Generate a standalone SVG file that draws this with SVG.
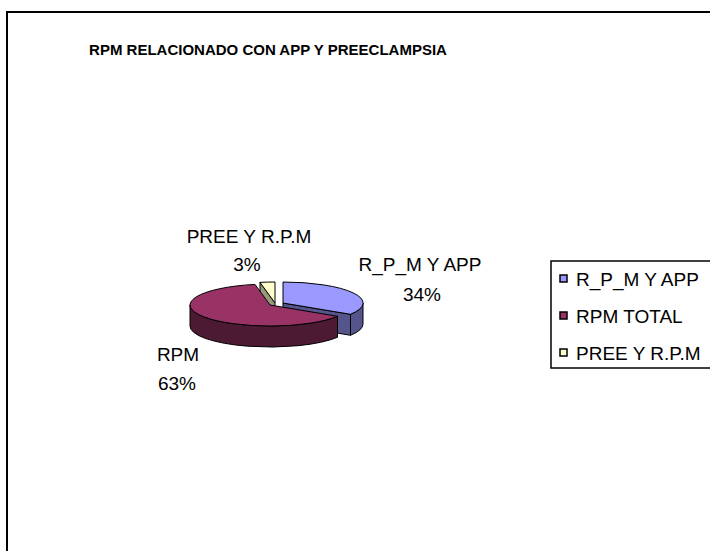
<svg xmlns="http://www.w3.org/2000/svg" width="710" height="551" viewBox="0 0 710 551">
  <style>
    text { font-family: "Liberation Sans", Arial, sans-serif; fill: #000; }
    .title { font-size: 15px; font-weight: bold; }
    .lbl { font-size: 19px; }
    .edge { stroke: #000; stroke-width: 1; stroke-linejoin: round; }
    .sq { stroke: #000; stroke-width: 1.5; }
  </style>
  <rect x="0" y="0" width="710" height="551" fill="#fff"/>
  <rect x="7" y="12" width="720" height="560" fill="#fff" stroke="#000" stroke-width="2"/>
  <text class="title" x="268" y="55" text-anchor="middle">RPM RELACIONADO CON APP Y PREECLAMPSIA</text>

  <g id="slice-pree">
    <path class="edge" fill="#99997A" d="M275,303 L260,282.4 L260,303.4 L275,324 Z"/>
    <path class="edge" fill="#FFFFCC" d="M275,303 L260,282.4 A80,21 0 0,1 275,282 Z"/>
  </g>
  <g id="slice-rpm-app">
    <path class="edge" fill="#55558C" d="M283,303 L350.5,314.3 L350.5,335.3 L283,324 Z"/>
    <path class="edge" fill="#55558C" d="M363,303 A80,21 0 0,1 350.5,314.3 L350.5,335.3 A80,21 0 0,0 363,324 Z"/>
    <path class="edge" fill="#9999FF" d="M283,303 L283,282 A80,21 0 0,1 350.5,314.3 Z"/>
  </g>
  <g id="slice-rpm">
    <path class="edge" fill="#4D1A33" d="M337.5,316.3 A80,21 0 0,1 190,305 L190,326 A80,21 0 0,0 337.5,337.3 Z"/>
    <path class="edge" fill="#993366" d="M270,305 L337.5,316.3 A80,21 0 1,1 255,284.4 Z"/>
  </g>

  <g id="labels">
    <text class="lbl" x="249" y="243" text-anchor="middle">PREE Y R.P.M</text>
    <text class="lbl" x="247" y="271" text-anchor="middle">3%</text>
    <text class="lbl" x="420" y="271" text-anchor="middle">R_P_M Y APP</text>
    <text class="lbl" x="422" y="301" text-anchor="middle">34%</text>
    <text class="lbl" x="178" y="361" text-anchor="middle">RPM</text>
    <text class="lbl" x="177" y="390" text-anchor="middle">63%</text>
  </g>

  <g id="legend">
    <rect x="551" y="261" width="170" height="107" fill="#fff" stroke="#000" stroke-width="1.5"/>
    <rect class="sq" x="560" y="275" width="7" height="7" fill="#9999FF"/>
    <text class="lbl" x="576" y="286">R_P_M Y APP</text>
    <rect class="sq" x="560" y="312" width="7" height="7" fill="#993366"/>
    <text class="lbl" x="576" y="323">RPM TOTAL</text>
    <rect class="sq" x="560" y="349" width="7" height="7" fill="#FFFFCC"/>
    <text class="lbl" x="576" y="360">PREE Y R.P.M</text>
  </g>
</svg>
